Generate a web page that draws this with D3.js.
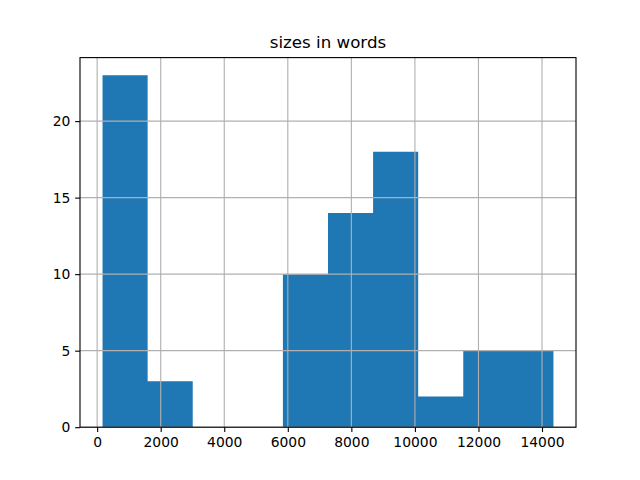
<!DOCTYPE html>
<html>
<head>
<meta charset="utf-8">
<script src="https://cdn.jsdelivr.net/npm/d3@7"></script>
<style>
  body { margin: 0; background: #fff; overflow: hidden; }
  svg { display: block; }
  text { font-family: "DejaVu Sans", sans-serif; }
</style>
</head>
<body>
<div id="chart"></div>
<script>
var width = 640,
    height = 480,
    margin = { top: 57.6, right: 64, bottom: 52.8, left: 80 },
    innerWidth = width - margin.left - margin.right,
    innerHeight = height - margin.top - margin.bottom;

// histogram bins
var binEdges = [170, 1589, 3008, 4427, 5846, 7265, 8684, 10103, 11522, 12941, 14360];
var counts = [23, 3, 0, 0, 10, 14, 18, 2, 5, 5];
var xTicks = [0, 2000, 4000, 6000, 8000, 10000, 12000, 14000];
var yTicks = [0, 5, 10, 15, 20];
var title = "sizes in words";

var pt = 100 / 72; // matplotlib points -> px at dpi 100

var svg = d3.select("#chart")
    .append("svg")
    .attr("width", width)
    .attr("height", height);

var g = svg.append("g")
    .attr("transform", `translate(${margin.left}, ${margin.top})`);

var lo = binEdges[0], hi = binEdges[binEdges.length - 1], pad = (hi - lo) * 0.05;
var x = d3.scaleLinear()
    .domain([lo - pad, hi + pad])
    .range([0, innerWidth]);

var y = d3.scaleLinear()
    .domain([0, d3.max(counts) * 1.05])
    .range([innerHeight, 0]);

var bins = counts.map((c, i) => ({ x0: binEdges[i], x1: binEdges[i + 1], n: c }));

// one path for all bars so neighbouring bars don't show seams
var barPath = d3.path();
bins.filter(d => d.n > 0).forEach(d => {
    barPath.rect(x(d.x0), y(d.n), x(d.x1) - x(d.x0), y(0) - y(d.n));
});
g.append("path")
    .attr("d", barPath.toString())
    .style("fill", "#1f77b4")
    .style("fill-rule", "nonzero");

// grid on top of bars, like matplotlib
g.selectAll("line.gx")
    .data(xTicks)
    .enter()
    .append("line")
    .attr("x1", d => x(d)).attr("x2", d => x(d))
    .attr("y1", 0).attr("y2", innerHeight)
    .style("stroke", "#b0b0b0")
    .style("stroke-width", 0.8 * pt);

g.selectAll("line.gy")
    .data(yTicks)
    .enter()
    .append("line")
    .attr("y1", d => y(d)).attr("y2", d => y(d))
    .attr("x1", 0).attr("x2", innerWidth)
    .style("stroke", "#b0b0b0")
    .style("stroke-width", 0.8 * pt);

var xAxis = d3.axisBottom(x)
    .tickValues(xTicks)
    .tickSizeInner(3.5 * pt)
    .tickSizeOuter(0)
    .tickPadding(3.5 * pt)
    .tickFormat(d3.format("d"));

var yAxis = d3.axisLeft(y)
    .tickValues(yTicks)
    .tickSizeInner(3.5 * pt)
    .tickSizeOuter(0)
    .tickPadding(3.5 * pt)
    .tickFormat(d3.format("d"));

var gx = g.append("g")
    .attr("transform", `translate(0, ${innerHeight})`)
    .call(xAxis);
var gy = g.append("g").call(yAxis);

[gx, gy].forEach(a => {
    a.select(".domain").remove();
    a.selectAll(".tick line").style("stroke", "#000").style("stroke-width", 0.8 * pt);
    a.selectAll(".tick text")
        .style("font-size", (10 * pt) + "px")
        .style("fill", "#000")
        .style("font-family", "'DejaVu Sans', sans-serif");
});

// frame
g.append("rect")
    .attr("width", innerWidth)
    .attr("height", innerHeight)
    .style("fill", "none")
    .style("stroke", "#000")
    .style("stroke-width", 0.8 * pt);

svg.append("text")
    .attr("x", margin.left + innerWidth / 2)
    .attr("y", margin.top - 6 * pt - 1)
    .style("text-anchor", "middle")
    .style("font-size", (12 * pt) + "px")
    .text(title);
</script>
</body>
</html>
